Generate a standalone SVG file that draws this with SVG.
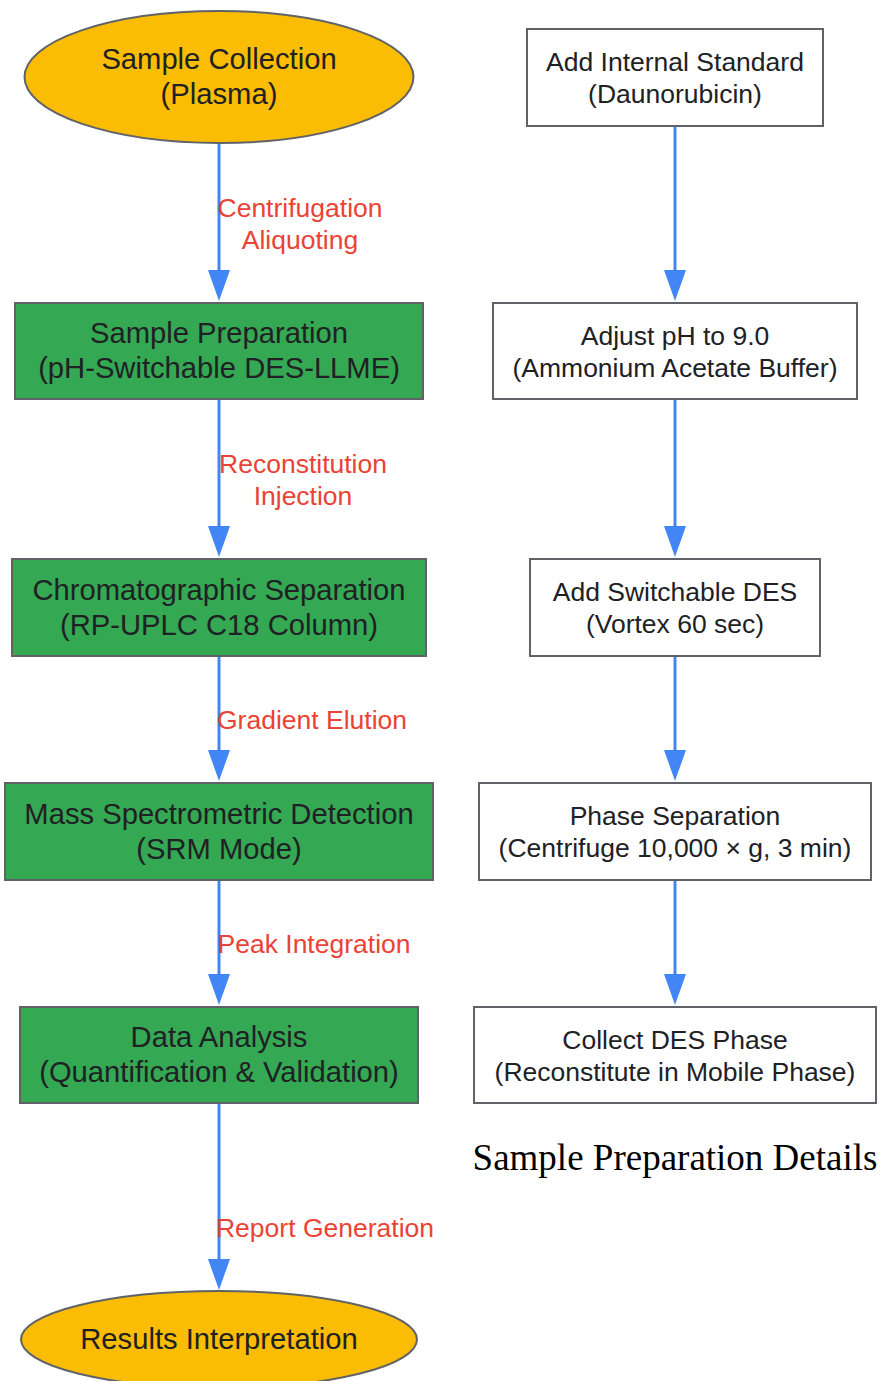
<svg xmlns="http://www.w3.org/2000/svg" width="880" height="1381" viewBox="0 0 880 1381">
<style>
.term{fill:#FBBC04;stroke:#5F6368;stroke-width:2}
.main{fill:#34A853;stroke:#5F6368;stroke-width:2}
.sub{fill:#FFFFFF;stroke:#5F6368;stroke-width:2}
.t{font-family:"Liberation Sans",Arial,sans-serif;font-size:29.2px;fill:#202124;text-anchor:middle}
.ts{font-family:"Liberation Sans",Arial,sans-serif;font-size:26.5px;fill:#202124;text-anchor:middle}
.lbl{font-family:"Liberation Sans",Arial,sans-serif;font-size:26.5px;fill:#EA4335;text-anchor:middle}
.edge{stroke:#4285F4;stroke-width:3;fill:none}
.title{font-family:"Liberation Serif","Times New Roman",serif;font-size:37px;fill:#000000;text-anchor:middle}
</style>
<defs>
<marker id="arr" viewBox="0 0 31 22" refX="0" refY="11" markerWidth="31" markerHeight="22" markerUnits="userSpaceOnUse" orient="auto">
<path d="M0,0 L31,11 L0,22 Z" fill="#4285F4"/>
</marker>
</defs>
<rect width="880" height="1381" fill="#FFFFFF"/>

<g id="connectors">
<line class="edge" x1="219" y1="143" x2="219" y2="270" marker-end="url(#arr)"/>
<line class="edge" x1="219" y1="399" x2="219" y2="526" marker-end="url(#arr)"/>
<line class="edge" x1="219" y1="656" x2="219" y2="750" marker-end="url(#arr)"/>
<line class="edge" x1="219" y1="880" x2="219" y2="974" marker-end="url(#arr)"/>
<line class="edge" x1="219" y1="1103" x2="219" y2="1259" marker-end="url(#arr)"/>
<line class="edge" x1="675" y1="126" x2="675" y2="270" marker-end="url(#arr)"/>
<line class="edge" x1="675" y1="399" x2="675" y2="526" marker-end="url(#arr)"/>
<line class="edge" x1="675" y1="656" x2="675" y2="750" marker-end="url(#arr)"/>
<line class="edge" x1="675" y1="880" x2="675" y2="974" marker-end="url(#arr)"/>
<text class="lbl" x="300" y="217">Centrifugation</text>
<text class="lbl" x="300" y="249">Aliquoting</text>
<text class="lbl" x="303" y="473">Reconstitution</text>
<text class="lbl" x="303" y="505">Injection</text>
<text class="lbl" x="312" y="729">Gradient Elution</text>
<text class="lbl" x="314" y="953">Peak Integration</text>
<text class="lbl" x="325" y="1237">Report Generation</text>
</g>

<g id="sample-collection">
<ellipse class="term" cx="219" cy="77" rx="194.5" ry="66"/>
<text class="t" x="219" y="69">Sample Collection</text>
<text class="t" x="219" y="104">(Plasma)</text>
</g>
<g id="sample-preparation">
<rect class="main" x="15" y="303" width="408" height="96"/>
<text class="t" x="219" y="343">Sample Preparation</text>
<text class="t" x="219" y="378">(pH-Switchable DES-LLME)</text>
</g>
<g id="chromatographic-separation">
<rect class="main" x="12" y="559" width="414" height="97"/>
<text class="t" x="219" y="599.5">Chromatographic Separation</text>
<text class="t" x="219" y="634.5">(RP-UPLC C18 Column)</text>
</g>
<g id="ms-detection">
<rect class="main" x="5" y="783" width="428" height="97"/>
<text class="t" x="219" y="823.5">Mass Spectrometric Detection</text>
<text class="t" x="219" y="858.5">(SRM Mode)</text>
</g>
<g id="data-analysis">
<rect class="main" x="20" y="1007" width="398" height="96"/>
<text class="t" x="219" y="1047">Data Analysis</text>
<text class="t" x="219" y="1082">(Quantification &amp; Validation)</text>
</g>
<g id="results-interpretation">
<ellipse class="term" cx="219" cy="1339.5" rx="198" ry="48.5"/>
<text class="t" x="219" y="1349">Results Interpretation</text>
</g>

<g id="sample-preparation-details">
<text class="title" x="675" y="1170">Sample Preparation Details</text>
<g id="add-internal-standard">
<rect class="sub" x="527" y="29" width="296" height="97"/>
<text class="ts" x="675" y="71">Add Internal Standard</text>
<text class="ts" x="675" y="103">(Daunorubicin)</text>
</g>
<g id="adjust-ph">
<rect class="sub" x="493" y="303" width="364" height="96"/>
<text class="ts" x="675" y="344.5">Adjust pH to 9.0</text>
<text class="ts" x="675" y="376.5">(Ammonium Acetate Buffer)</text>
</g>
<g id="add-des">
<rect class="sub" x="530" y="559" width="290" height="97"/>
<text class="ts" x="675" y="601">Add Switchable DES</text>
<text class="ts" x="675" y="633">(Vortex 60 sec)</text>
</g>
<g id="phase-separation">
<rect class="sub" x="479" y="783" width="392" height="97"/>
<text class="ts" x="675" y="825">Phase Separation</text>
<text class="ts" x="675" y="857">(Centrifuge 10,000 × g, 3 min)</text>
</g>
<g id="collect-des">
<rect class="sub" x="474" y="1007" width="402" height="96"/>
<text class="ts" x="675" y="1048.5">Collect DES Phase</text>
<text class="ts" x="675" y="1080.5">(Reconstitute in Mobile Phase)</text>
</g>
</g>
</svg>
